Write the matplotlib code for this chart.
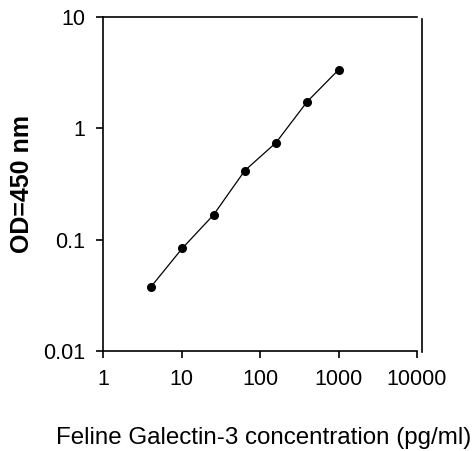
import matplotlib
matplotlib.use("Agg")
import matplotlib.pyplot as plt

concentration = [4.096, 10.24, 25.6, 64, 160, 400, 1000]
od450 = [0.0378, 0.0837, 0.167, 0.417, 0.744, 1.74, 3.35]
x_ticks = [1, 10, 100, 1000, 10000]
x_tick_labels = ["1", "10", "100", "1000", "10000"]
y_ticks = [0.01, 0.1, 1, 10]
y_tick_labels = ["0.01", "0.1", "1", "10"]

plt.rcParams['font.family'] = ['Liberation Sans', 'DejaVu Sans']

fig = plt.figure(figsize=(4.75, 4.51), dpi=100)
ax = fig.add_axes([103/475, 1 - 351/451, 314/475, 334/451])

ax.plot(concentration, od450, color='black', linewidth=0.9, marker='o',
        markersize=5.5, markerfacecolor='black', markeredgecolor='black')

ax.set_xscale('log')
ax.set_yscale('log')
ax.set_xlim(1, 10000)
ax.set_ylim(0.01, 10)
ax.set_xticks(x_ticks)
ax.set_xticklabels(x_tick_labels)
ax.set_yticks(y_ticks)
ax.set_yticklabels(y_tick_labels)
ax.minorticks_off()
ax.tick_params(axis='both', which='major', direction='out', length=5, width=1.2,
               labelsize=15.5, colors='black')
ax.tick_params(axis='y', pad=8)
ax.tick_params(axis='x', pad=8)

for s in ['left', 'bottom', 'top']:
    ax.spines[s].set_linewidth(1.2)
    ax.spines[s].set_color('black')
ax.spines['right'].set_visible(False)
# offset right border line
ax.plot([1 + 5/314, 1 + 5/314], [-0.003, 1 - 2/334], transform=ax.transAxes,
        color='black', linewidth=1.2, clip_on=False)

ax.set_ylabel("OD=450 nm", fontsize=18, fontweight='bold', labelpad=6)
ax.set_xlabel("Feline Galectin-3 concentration (pg/ml)", fontsize=17.4)
ax.xaxis.set_label_coords(0.511, -0.228)

fig.savefig("out.png", dpi=100, facecolor='white')
